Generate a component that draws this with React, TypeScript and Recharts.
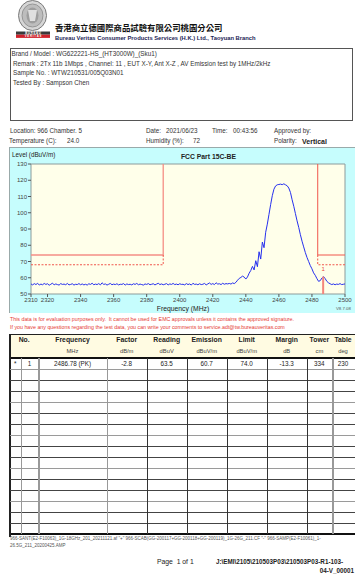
import React from 'react';
import {
  ComposedChart,
  Line,
  XAxis,
  YAxis,
  CartesianGrid,
  ReferenceArea,
  ReferenceDot,
} from 'recharts';

// sweep, 1 MHz steps
const TRACE_FREQ = [
  2310, 2311, 2312, 2313, 2314, 2315, 2316, 2317, 2318, 2319,
  2320, 2321, 2322, 2323, 2324, 2325, 2326, 2327, 2328, 2329,
  2330, 2331, 2332, 2333, 2334, 2335, 2336, 2337, 2338, 2339,
  2340, 2341, 2342, 2343, 2344, 2345, 2346, 2347, 2348, 2349,
  2350, 2351, 2352, 2353, 2354, 2355, 2356, 2357, 2358, 2359,
  2360, 2361, 2362, 2363, 2364, 2365, 2366, 2367, 2368, 2369,
  2370, 2371, 2372, 2373, 2374, 2375, 2376, 2377, 2378, 2379,
  2380, 2381, 2382, 2383, 2384, 2385, 2386, 2387, 2388, 2389,
  2390, 2391, 2392, 2393, 2394, 2395, 2396, 2397, 2398, 2399,
  2400, 2401, 2402, 2403, 2404, 2405, 2406, 2407, 2408, 2409,
  2410, 2411, 2412, 2413, 2414, 2415, 2416, 2417, 2418, 2419,
  2420, 2421, 2422, 2423, 2424, 2425, 2426, 2427, 2428, 2429,
  2430, 2431, 2432, 2433, 2434, 2435, 2436, 2437, 2438, 2439,
  2440, 2441, 2442, 2443, 2444, 2445, 2446, 2447, 2448, 2449,
  2450, 2451, 2452, 2453, 2454, 2455, 2456, 2457, 2458, 2459,
  2460, 2461, 2462, 2463, 2464, 2465, 2466, 2467, 2468, 2469,
  2470, 2471, 2472, 2473, 2474, 2475, 2476, 2477, 2478, 2479,
  2480, 2481, 2482, 2483, 2484, 2485, 2486, 2487, 2488, 2489,
  2490, 2491, 2492, 2493, 2494, 2495, 2496, 2497, 2498, 2499, 2500,
];

const TRACE_LEVEL = [
  56.2, 55.6, 56.4, 55.8, 56.6, 55.5, 56.1, 55.7, 56.5, 55.9,
  56.3, 55.4, 56.0, 56.7, 55.6, 56.2, 55.8, 55.5, 56.4, 55.9,
  56.1, 55.7, 56.5, 55.6, 55.9, 56.3, 55.5, 56.0, 55.8, 56.4,
  55.7, 56.2, 55.6, 56.0, 55.5, 56.3, 55.9, 56.6, 55.7, 56.1,
  55.8, 56.4, 55.6, 56.9, 55.9, 56.2, 55.5, 56.0, 56.5, 55.7,
  56.1, 55.8, 56.3, 55.6, 56.0, 55.9, 56.4, 55.5, 56.2, 55.8,
  56.0, 55.6, 56.3, 55.9, 56.5, 55.7, 56.1, 55.8, 55.5, 56.2,
  55.9, 56.4, 55.7, 56.0, 56.3, 55.6, 56.1, 56.6, 55.8, 56.2,
  55.7, 56.0, 56.4, 55.6, 56.2, 55.9, 56.5, 55.8, 56.1, 55.7,
  56.3, 55.9, 56.0, 55.6, 56.4, 55.8, 56.2, 55.5, 56.6, 55.9,
  56.1, 55.7, 56.3, 55.8, 56.0, 56.5, 55.6, 56.2, 56.8, 55.9,
  56.4, 55.8, 56.9, 56.1, 56.3, 55.8, 56.6, 56.0, 56.4, 56.2,
  56.5, 56.1, 56.8, 56.4, 57.2, 58.5, 59.6, 60.2, 61.0, 60.4,
  59.2, 60.5, 62.8, 64.5, 67.0, 64.8, 70.5, 66.8, 76.0, 71.5,
  82.0, 78.5, 88.0, 93.0, 99.0, 105.0, 110.5, 114.5, 116.5, 117.2,
  117.4, 117.6, 117.3, 117.8, 117.2, 116.6, 115.2, 112.5, 108.0, 104.0,
  99.5, 95.0, 91.0, 86.5, 82.5, 79.0, 75.5, 72.5, 70.0, 67.5,
  65.5, 63.0, 61.5, 59.5, 57.8, 58.2, 59.8, 60.7, 59.5, 57.8,
  56.9, 56.3, 55.8, 56.2, 55.7, 56.1, 55.9, 56.4, 55.8, 56.0, 56.2,
];

// restricted-band limits (dBuV/m)
const LIMIT_LOW_PK = [
  { f: 2310, v: 74 },
  { f: 2390, v: 74 },
  { f: 2390, v: 130 },
];
const LIMIT_LOW_AV = [
  { f: 2310, v: 68 },
  { f: 2390, v: 68 },
  { f: 2390, v: 74 },
];
const LIMIT_HIGH_PK = [
  { f: 2483.5, v: 130 },
  { f: 2483.5, v: 74 },
  { f: 2500, v: 74 },
];
const LIMIT_HIGH_AV = [
  { f: 2483.5, v: 74 },
  { f: 2483.5, v: 68 },
  { f: 2500, v: 68 },
];

const MARKER = [
  { f: 2486.78, v: 50 },
  { f: 2486.78, v: 60.7 },
];

const X_TICKS = [2310, 2320, 2340, 2360, 2380, 2400, 2420, 2440, 2460, 2480, 2500];
const Y_TICKS = [50, 60, 70, 80, 90, 100, 110, 120, 130];

const TABLE_HEAD = ['No.', 'Frequency', 'Factor', 'Reading', 'Emission', 'Limit', 'Margin', 'Tower', 'Table'];
const TABLE_UNITS = ['', 'MHz', 'dB/m', 'dBuV', 'dBuV/m', 'dBuV/m', 'dB', 'cm', 'deg'];
const TABLE_ROW = ['*', '1', '2486.78 (PK)', '-2.8', '63.5', '60.7', '74.0', '-13.3', '334', '230'];

const COL_X = [10, 20.7, 38.3, 106.7, 146.7, 186.7, 226.7, 266.7, 306.7, 332, 354];
const LIGHT_COLS = [1, 2, 3, 9];
const ROW_H = 11;
const BODY_TOP = 358;
const BODY_ROWS = 16;

const FONT = '"Liberation Sans", Arial, sans-serif';

type TxtProps = {
  x: number;
  y: number;
  size?: number;
  bold?: boolean;
  color?: string;
  anchor?: 'left' | 'center' | 'right';
  font?: string;
  children: React.ReactNode;
};

function Txt({ x, y, size = 6.5, bold, color = '#333', anchor = 'left', font, children }: TxtProps) {
  const style: React.CSSProperties = {
    position: 'absolute',
    top: y - size / 2,
    fontSize: size,
    lineHeight: 1,
    fontWeight: bold ? 700 : 400,
    color,
    whiteSpace: 'nowrap',
    fontFamily: font || FONT,
  };
  if (anchor === 'left') style.left = x;
  if (anchor === 'center') {
    style.left = x;
    style.transform = 'translateX(-50%)';
  }
  if (anchor === 'right') style.right = 355 - x;
  return <div style={style}>{children}</div>;
}

function Logo() {
  return (
    <svg style={{ position: 'absolute', left: 15, top: 0 }} width={37} height={40}>
      <ellipse cx={17.5} cy={15.5} rx={14} ry={15} fill="#d6d6d6" stroke="#7a7a7a" strokeWidth={1} />
      <ellipse cx={17.5} cy={15.5} rx={10.5} ry={11.5} fill="#bdbdbd" stroke="#8a8a8a" strokeWidth={0.8} />
      <ellipse cx={17.5} cy={15.5} rx={6} ry={8} fill="#9e9e9e" />
      <path d="M13 10 L22 10 L20 21 L15 21 Z" fill="#e0e0e0" />
      <rect x={1} y={31.5} width={34} height={3.2} fill="#3a3a3a" />
      <rect x={1} y={34.7} width={34} height={3.2} fill="#d0222b" />
      <text x={18} y={34.2} fontSize={2.8} fill="#fff" textAnchor="middle" fontFamily={FONT} fontWeight={700}>
        B U R E A U
      </text>
      <text x={18} y={37.4} fontSize={2.8} fill="#fff" textAnchor="middle" fontFamily={FONT} fontWeight={700}>
        V E R I T A S
      </text>
    </svg>
  );
}

function EmissionChart() {
  const trace = TRACE_FREQ.map((f, i) => ({ f, v: TRACE_LEVEL[i] }));
  const limitColor = '#f0564c';
  return (
    <ComposedChart
      width={346}
      height={166}
      margin={{ top: 17, right: 10, bottom: 0, left: 0 }}
      style={{ position: 'absolute', left: 0, top: 0 }}
    >
      <CartesianGrid horizontal={false} vertical={false} fill="#ffffea" />
      <XAxis
        type="number"
        dataKey="f"
        domain={[2310, 2500]}
        ticks={X_TICKS}
        allowDataOverflow
        height={19}
        tickSize={3}
        tickMargin={1}
        axisLine={false}
        tickLine={{ stroke: '#555' }}
        tick={{ fontSize: 6, fill: '#444', fontFamily: FONT }}
        interval={0}
      />
      <YAxis
        type="number"
        domain={[50, 130]}
        ticks={Y_TICKS}
        allowDataOverflow
        width={22}
        tickSize={3}
        tickMargin={1}
        axisLine={false}
        tickLine={{ stroke: '#555' }}
        tick={{ fontSize: 6, fill: '#444', fontFamily: FONT }}
        interval={0}
      />
      <Line data={LIMIT_LOW_PK} dataKey="v" stroke="#f58f86" strokeWidth={1.3} dot={false} isAnimationActive={false} />
      <Line data={LIMIT_LOW_AV} dataKey="v" stroke={limitColor} strokeWidth={1} strokeDasharray="2 1.5" dot={false} isAnimationActive={false} />
      <Line data={LIMIT_HIGH_PK} dataKey="v" stroke={limitColor} strokeWidth={1} dot={false} isAnimationActive={false} />
      <Line data={LIMIT_HIGH_AV} dataKey="v" stroke={limitColor} strokeWidth={1} strokeDasharray="2 1.5" dot={false} isAnimationActive={false} />
      <Line data={trace} dataKey="v" stroke="#2630ee" strokeWidth={1} dot={false} isAnimationActive={false} />
      <Line data={MARKER} dataKey="v" stroke="#f4867c" strokeWidth={2} dot={false} isAnimationActive={false} />
      <ReferenceDot
        x={MARKER[1].f}
        y={65.5}
        r={0}
        stroke="none"
        label={{ value: '1', fill: '#e8473d', fontSize: 6, position: 'center', fontFamily: FONT }}
      />
      <ReferenceArea x1={2310} x2={2500} y1={50} y2={130} fill="none" stroke="#8c9b9b" strokeWidth={1} />
    </ComposedChart>
  );
}

function ResultTable() {
  const lines: React.ReactNode[] = [];
  // horizontal row lines
  for (let r = 1; r < BODY_ROWS; r++) {
    lines.push(
      <div
        key={'h' + r}
        style={{
          position: 'absolute',
          left: 10,
          width: 345,
          top: BODY_TOP + r * ROW_H,
          height: 1,
          background: r % 3 === 1 ? '#9a9a9a' : '#444',
        }}
      />
    );
  }
  // vertical column lines
  for (let c = 1; c < COL_X.length - 1; c++) {
    const light = LIGHT_COLS.includes(c);
    lines.push(
      <div
        key={'v' + c}
        style={{
          position: 'absolute',
          left: COL_X[c],
          top: BODY_TOP,
          height: BODY_ROWS * ROW_H,
          width: light ? 1.5 : 1,
          background: light ? '#999' : '#333',
        }}
      />
    );
  }
  const headCenters = [
    (COL_X[0] + COL_X[2]) / 2,
    ...COL_X.slice(2, -1).map((x, i) => (x + COL_X[i + 3]) / 2),
  ];
  const rowCenters = COL_X.slice(0, -1).map((x, i) => (x + COL_X[i + 1]) / 2);
  return (
    <>
      <div style={{ position: 'absolute', left: 10, top: 334, width: 345, height: 24, background: '#fffbe2' }} />
      <div style={{ position: 'absolute', left: 10, top: 333.5, width: 345, height: 1.5, background: '#222' }} />
      <div style={{ position: 'absolute', left: 10, top: 357, width: 345, height: 2, background: '#111' }} />
      <div style={{ position: 'absolute', left: 10, top: BODY_TOP + BODY_ROWS * ROW_H - 1, width: 345, height: 2, background: '#111' }} />
      <div style={{ position: 'absolute', left: 9, top: 333.5, width: 2, height: 203, background: '#222' }} />
      {lines}
      {TABLE_HEAD.map((h, i) => (
        <Txt key={'th' + i} x={headCenters[i]} y={340.5} size={6.8} bold color="#222" anchor="center">
          {h}
        </Txt>
      ))}
      {TABLE_UNITS.map((u, i) => (
        <Txt key={'tu' + i} x={headCenters[i]} y={352} size={5.8} color="#444" anchor="center">
          {u}
        </Txt>
      ))}
      {TABLE_ROW.map((v, i) => (
        <Txt key={'td' + i} x={rowCenters[i]} y={364} size={6.3} color="#222" anchor="center">
          {v}
        </Txt>
      ))}
    </>
  );
}

export default function App() {
  return (
    <div
      style={{
        position: 'fixed',
        left: 0,
        top: 0,
        width: 355,
        height: 585,
        overflow: 'hidden',
        background: '#fff',
        fontFamily: FONT,
      }}
    >
      <Logo />
      <Txt x={55} y={27} size={8.4} bold color="#111" font={'"Noto Sans CJK TC", sans-serif'}>
        香港商立德國際商品試驗有限公司桃園分公司
      </Txt>
      <Txt x={55} y={38.5} size={5.8} bold color="#1c2456">
        Bureau Veritas Consumer Products Services (H.K.) Ltd., Taoyuan Branch
      </Txt>

      {/* info box */}
      <div
        style={{
          position: 'absolute',
          left: 10,
          top: 47.5,
          width: 343,
          height: 73,
          border: '1px solid #555',
          boxSizing: 'border-box',
        }}
      />
      <Txt x={11.5} y={54.5} size={6.3}>Brand / Model : WG622221-HS_(HT3000W)_(Sku1)</Txt>
      <Txt x={13} y={64.3} size={6.3}>
        Remark : 2Tx 11b 1Mbps , Channel: 11 , EUT X-Y, Ant X-Z , AV Emission test by 1MHz/2kHz
      </Txt>
      <Txt x={13} y={73.6} size={6.3}>Sample No. : WTW210531/005Q03N01</Txt>
      <Txt x={13} y={83} size={6.3}>Tested By : Sampson Chen</Txt>

      {/* test conditions */}
      <Txt x={10} y={131} size={6.3}>Location: 966 Chamber. 5</Txt>
      <Txt x={146} y={131} size={6.3}>Date:</Txt>
      <Txt x={166} y={131} size={6.3}>2021/06/23</Txt>
      <Txt x={212} y={131} size={6.3}>Time:</Txt>
      <Txt x={233} y={131} size={6.3}>00:43:56</Txt>
      <Txt x={274} y={131} size={6.3}>Approved by:</Txt>
      <Txt x={9} y={141.5} size={6.3}>Temperature (C):</Txt>
      <Txt x={67} y={141.5} size={6.3}>24.0</Txt>
      <Txt x={146} y={141.5} size={6.3}>Humidity (%):</Txt>
      <Txt x={193} y={141.5} size={6.3}>72</Txt>
      <Txt x={274} y={141} size={6.3}>Polarity:</Txt>
      <Txt x={302} y={141.5} size={7} bold color="#222">Vertical</Txt>

      {/* chart frame */}
      <div
        style={{
          position: 'absolute',
          left: 9,
          top: 147,
          width: 346,
          height: 166,
          background: '#c6fdfd',
          borderLeft: '1px solid #9aa',
          borderTop: '1px solid #9aa',
          boxSizing: 'border-box',
        }}
      >
        <div style={{ position: 'absolute', left: -1, top: -1 }}>
          <EmissionChart />
        </div>
      </div>
      <Txt x={12} y={155.5} size={6.3} color="#222">Level (dBuV/m)</Txt>
      <Txt x={208.5} y={157} size={6.8} bold color="#222" anchor="center">FCC Part 15C-BE</Txt>
      <Txt x={183} y={309} size={6.8} color="#222" anchor="center">Frequency (MHz)</Txt>
      <Txt x={336} y={309.5} size={4.3} color="#555">V8.7.08</Txt>

      {/* disclaimer */}
      <Txt x={10} y={319.7} size={5.3} color="#e53a33">
        This data is for evaluation purposes only.&nbsp; It cannot be used for EMC approvals unless it contains the approved signature.
      </Txt>
      <Txt x={10} y={327.7} size={5.3} color="#e53a33">
        If you have any questions regarding the test data, you can write your comments to service.adt@tw.bureauveritas.com
      </Txt>

      <ResultTable />

      {/* footer */}
      <Txt x={10} y={539.5} size={4.5} color="#555">
        966-SANT(E2-F10063)_1G-18GHz_201_20211121.af "+" 966-SCAB(GG-200117+GG-200118+GG-200119)_1G-26G_211.CF "-" 966-SAMP(E2-F10061)_1-
      </Txt>
      <Txt x={10} y={546} size={4.5} color="#555">26.5G_211_20200425.AMP</Txt>
      <Txt x={157} y={562} size={6.8} color="#222">Page&nbsp; 1 of 1</Txt>
      <Txt x={216} y={562} size={6.3} bold color="#222">J:\EMI\2105\210503P03\210503P03-R1-103-</Txt>
      <Txt x={354} y={571.5} size={6.3} bold color="#222" anchor="right">04-V_00001</Txt>
    </div>
  );
}
